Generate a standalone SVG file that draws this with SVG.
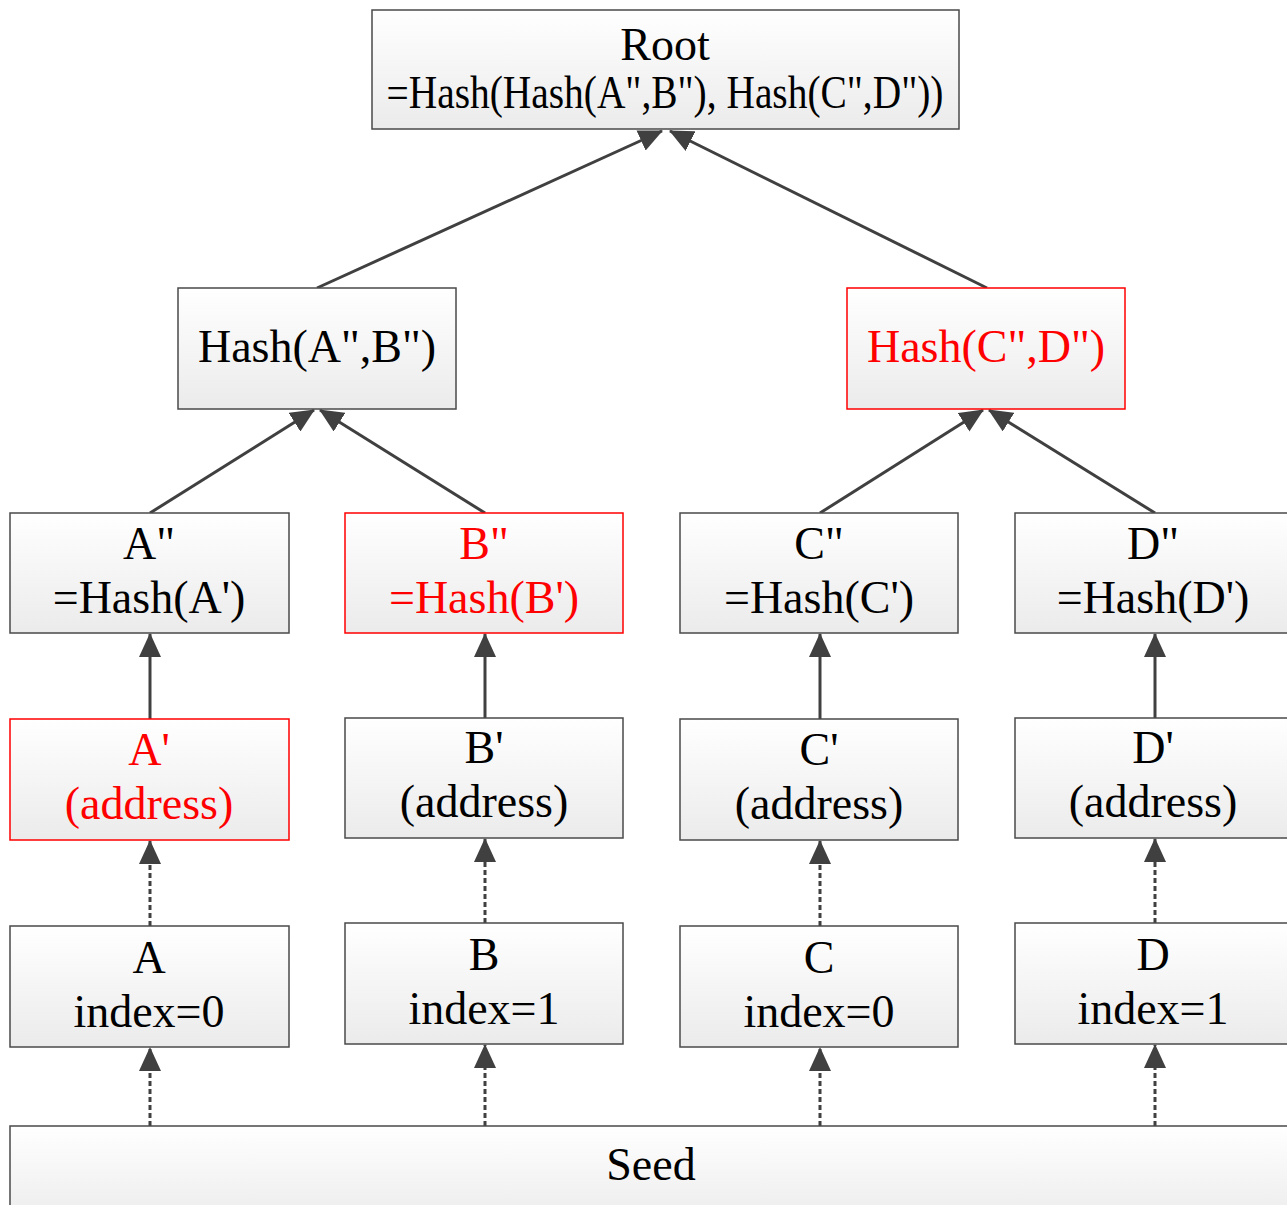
<svg xmlns="http://www.w3.org/2000/svg" width="1287" height="1205" viewBox="0 0 1287 1205">
<style>
.box{fill:url(#g);stroke:#4a4a4a;stroke-width:1.5}
.red{fill:url(#g);stroke:#ff0000;stroke-width:1.5}
text{font-family:'Liberation Serif','DejaVu Serif',serif;font-size:46px;text-anchor:middle;fill:#000}
text.r{fill:#ff0000}
.c{stroke:#404040;stroke-width:3;fill:none}
.d{stroke:#404040;stroke-width:3;fill:none;stroke-dasharray:5 3}
</style>
<defs>
<linearGradient id="g" x1="0" y1="0" x2="0" y2="1">
<stop offset="0" stop-color="#ffffff"/>
<stop offset="1" stop-color="#ebebeb"/>
</linearGradient>
<marker id="ah" viewBox="0 0 24 22" refX="23" refY="11" markerWidth="24" markerHeight="22" markerUnits="userSpaceOnUse" orient="auto">
<path d="M0,0 L24,11 L0,22 Z" fill="#404040"/>
</marker>
</defs>
<g id="connectors">
<line class="c" x1="317" y1="288" x2="662" y2="131" marker-end="url(#ah)"/>
<line class="c" x1="987" y1="288" x2="670" y2="131" marker-end="url(#ah)"/>
<line class="c" x1="150" y1="513" x2="314" y2="410" marker-end="url(#ah)"/>
<line class="c" x1="485" y1="513" x2="320" y2="410" marker-end="url(#ah)"/>
<line class="c" x1="820" y1="513" x2="983" y2="410" marker-end="url(#ah)"/>
<line class="c" x1="1155" y1="513" x2="989" y2="410" marker-end="url(#ah)"/>
<line class="c" x1="150" y1="719" x2="150" y2="634" marker-end="url(#ah)"/>
<line class="c" x1="485" y1="718" x2="485" y2="634" marker-end="url(#ah)"/>
<line class="c" x1="820" y1="719" x2="820" y2="634" marker-end="url(#ah)"/>
<line class="c" x1="1155" y1="718" x2="1155" y2="634" marker-end="url(#ah)"/>
<line class="d" x1="150" y1="926" x2="150" y2="841" marker-end="url(#ah)"/>
<line class="d" x1="485" y1="923" x2="485" y2="839" marker-end="url(#ah)"/>
<line class="d" x1="820" y1="926" x2="820" y2="841" marker-end="url(#ah)"/>
<line class="d" x1="1155" y1="923" x2="1155" y2="839" marker-end="url(#ah)"/>
<line class="d" x1="150" y1="1126" x2="150" y2="1048" marker-end="url(#ah)"/>
<line class="d" x1="485" y1="1126" x2="485" y2="1045" marker-end="url(#ah)"/>
<line class="d" x1="820" y1="1126" x2="820" y2="1048" marker-end="url(#ah)"/>
<line class="d" x1="1155" y1="1126" x2="1155" y2="1045" marker-end="url(#ah)"/>
</g>
<g id="root">
<rect class="box" x="372" y="10" width="587" height="119"/>
<text x="665" y="60">Root</text>
<text x="665" y="108" textLength="557" lengthAdjust="spacingAndGlyphs">=Hash(Hash(A&quot;,B&quot;), Hash(C&quot;,D&quot;))</text>
</g>
<g id="hashAB">
<rect class="box" x="178" y="288" width="278" height="121"/>
<text x="317" y="362">Hash(A&quot;,B&quot;)</text>
</g>
<g id="hashCD">
<rect class="red" x="847" y="288" width="278" height="121"/>
<text class="r" x="986" y="362">Hash(C&quot;,D&quot;)</text>
</g>
<g id="A2">
<rect class="box" x="10" y="513" width="279" height="120"/>
<text x="149" y="559">A&quot;</text>
<text x="149" y="613">=Hash(A')</text>
</g>
<g id="B2">
<rect class="red" x="345" y="513" width="278" height="120"/>
<text class="r" x="484" y="559">B&quot;</text>
<text class="r" x="484" y="613">=Hash(B')</text>
</g>
<g id="C2">
<rect class="box" x="680" y="513" width="278" height="120"/>
<text x="819" y="559">C&quot;</text>
<text x="819" y="613">=Hash(C')</text>
</g>
<g id="D2">
<rect class="box" x="1015" y="513" width="280" height="120"/>
<text x="1153" y="559">D&quot;</text>
<text x="1153" y="613">=Hash(D')</text>
</g>
<g id="A1">
<rect class="red" x="10" y="719" width="279" height="121"/>
<text class="r" x="149" y="765">A'</text>
<text class="r" x="149" y="819">(address)</text>
</g>
<g id="B1">
<rect class="box" x="345" y="718" width="278" height="120"/>
<text x="484" y="763">B'</text>
<text x="484" y="817">(address)</text>
</g>
<g id="C1">
<rect class="box" x="680" y="719" width="278" height="121"/>
<text x="819" y="765">C'</text>
<text x="819" y="819">(address)</text>
</g>
<g id="D1">
<rect class="box" x="1015" y="718" width="280" height="120"/>
<text x="1153" y="763">D'</text>
<text x="1153" y="817">(address)</text>
</g>
<g id="A">
<rect class="box" x="10" y="926" width="279" height="121"/>
<text x="149" y="973">A</text>
<text x="149" y="1027">index=0</text>
</g>
<g id="B">
<rect class="box" x="345" y="923" width="278" height="121"/>
<text x="484" y="970">B</text>
<text x="484" y="1024">index=1</text>
</g>
<g id="C">
<rect class="box" x="680" y="926" width="278" height="121"/>
<text x="819" y="973">C</text>
<text x="819" y="1027">index=0</text>
</g>
<g id="D">
<rect class="box" x="1015" y="923" width="280" height="121"/>
<text x="1153" y="970">D</text>
<text x="1153" y="1024">index=1</text>
</g>
<g id="seed">
<rect class="box" x="10" y="1126" width="1290" height="100"/>
<text x="651" y="1180">Seed</text>
</g>
</svg>
